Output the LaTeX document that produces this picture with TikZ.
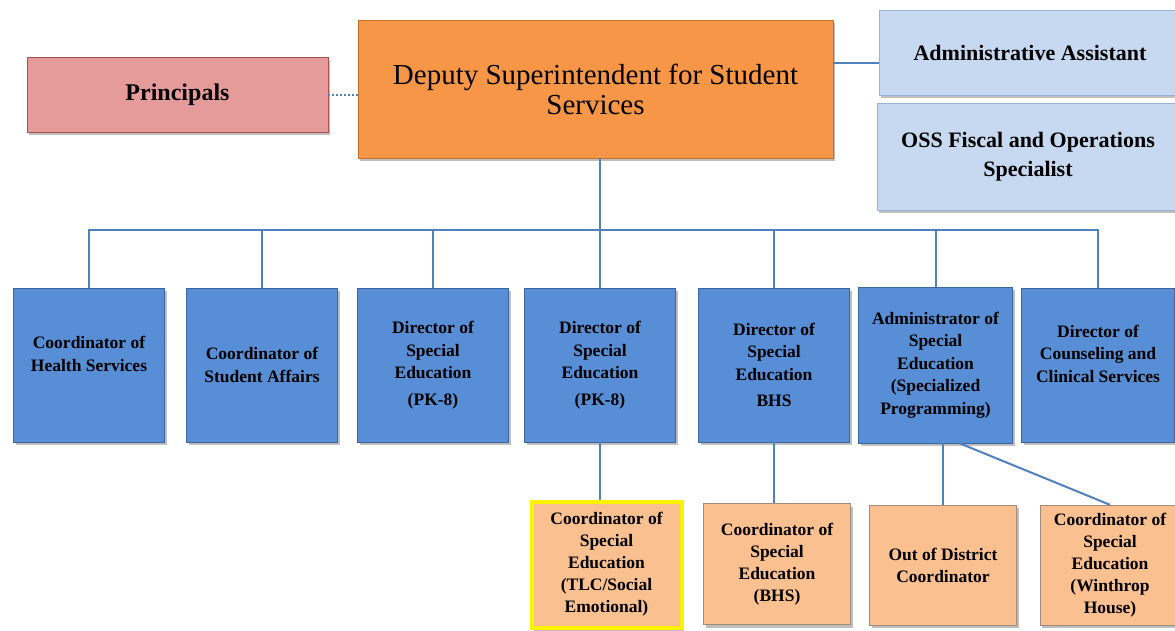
\documentclass[tikz,border=0pt]{standalone}
\usepackage{fontspec}
\setmainfont{Liberation Serif}
\usetikzlibrary{shadows}

\definecolor{linkblue}{RGB}{79,129,189}
\definecolor{deputyfill}{RGB}{247,150,70}
\definecolor{deputyline}{RGB}{200,110,40}
\definecolor{princfill}{RGB}{230,155,155}
\definecolor{princline}{RGB}{170,80,80}
\definecolor{stafffill}{RGB}{198,217,241}
\definecolor{staffline}{RGB}{149,179,215}
\definecolor{unitfill}{RGB}{88,142,214}
\definecolor{unitline}{RGB}{60,100,160}
\definecolor{coordfill}{RGB}{250,192,144}
\definecolor{coordline}{RGB}{160,140,120}

\tikzset{
  box/.style={rectangle, align=center, inner sep=1pt,
    drop shadow={shadow xshift=2pt, shadow yshift=-3pt, opacity=0.5}},
  unitbox/.style={box, fill=unitfill, draw=unitline,
    minimum width=151pt, minimum height=154pt,
    font=\bfseries\fontsize{17.5}{22.5}\selectfont},
  coordbox/.style={box, fill=coordfill, draw=coordline,
    minimum width=147pt, minimum height=121pt,
    font=\bfseries\fontsize{17.5}{22}\selectfont},
  staffbox/.style={box, fill=stafffill, draw=staffline,
    font=\bfseries\fontsize{22}{29}\selectfont},
  link/.style={draw=linkblue, line width=2pt}
}

\begin{document}
\begin{tikzpicture}[x=1pt, y=-1pt]
  \useasboundingbox (0,0) rectangle (1175,630);
  \clip (0,0) rectangle (1175,630);

  % top row
  \node[box, fill=princfill, draw=princline, minimum width=301pt, minimum height=75pt,
    font=\bfseries\fontsize{24}{28}\selectfont] (princ) at (177.5,94.5) {Principals};
  \node[box, fill=deputyfill, draw=deputyline, minimum width=475pt, minimum height=138pt,
    font=\fontsize{29}{30}\selectfont] (deputy) at (595.5,89)
    {Deputy Superintendent for Student\\Services};
  \node[staffbox, minimum width=302pt, minimum height=85pt] (admin) at (1030,52.5)
    {Administrative Assistant};
  \node[staffbox, minimum width=302pt, minimum height=107pt] (oss) at (1028,156.5)
    {OSS Fiscal and Operations\\Specialist};

  \draw[link, dotted, line width=2pt] (princ.east) -- (princ.east -| deputy.west);
  \draw[link] ([yshift=-10pt]admin.west) -- ([yshift=-10pt]admin.west -| deputy.east);

  % directors
  \node[unitbox] (b1) at (89,365) {Coordinator of\\Health Services\\\mbox{}};
  \node[unitbox] (b2) at (262,365) {Coordinator of\\Student Affairs};
  \node[unitbox] (b3) at (433,365) {Director of\\Special\\Education\\[4pt](PK-8)};
  \node[unitbox] (b4) at (600,365) {Director of\\Special\\Education\\[4pt](PK-8)};
  \node[unitbox] (b5) at (774,365) {Director of\\Special\\Education\\[4pt]BHS};
  \node[unitbox, minimum width=154pt, minimum height=156pt] (b6) at (935.5,365)
    {Administrator of\\Special\\Education\\(Specialized\\Programming)};
  \node[unitbox, minimum width=153pt] (b7) at (1098,365)
    {Director of\\Counseling and\\Clinical Services\\\mbox{}};

  \coordinate (bus) at (600,230);
  \draw[link] (bus |- deputy.south) -- (bus);
  \foreach \b in {b1,b2,b3,b4,b5,b6,b7}
    \draw[link] (bus) -| (\b.north);

  % coordinators
  \node[coordbox, draw=yellow, line width=4pt, minimum width=150pt, minimum height=126pt]
    (ca) at (606.5,564.5)
    {Coordinator of\\Special\\Education\\(TLC/Social\\Emotional)};
  \node[coordbox] (cb) at (777,564) {Coordinator of\\Special\\Education\\(BHS)};
  \node[coordbox, minimum height=120pt] (cc) at (943,565) {Out of District\\Coordinator};
  \node[coordbox, minimum width=140pt, minimum height=120pt] (cd) at (1110,565)
    {Coordinator of\\Special\\Education\\(Winthrop\\House)};

  \draw[link] (b4.south) -- (b4.south |- ca.north);
  \draw[link] (b5.south) -- (b5.south |- cb.north);
  \draw[link] (cc.north |- b6.south) -- (cc.north);
  \draw[link] (b6.-73) -- (cd.north);
\end{tikzpicture}
\end{document}
